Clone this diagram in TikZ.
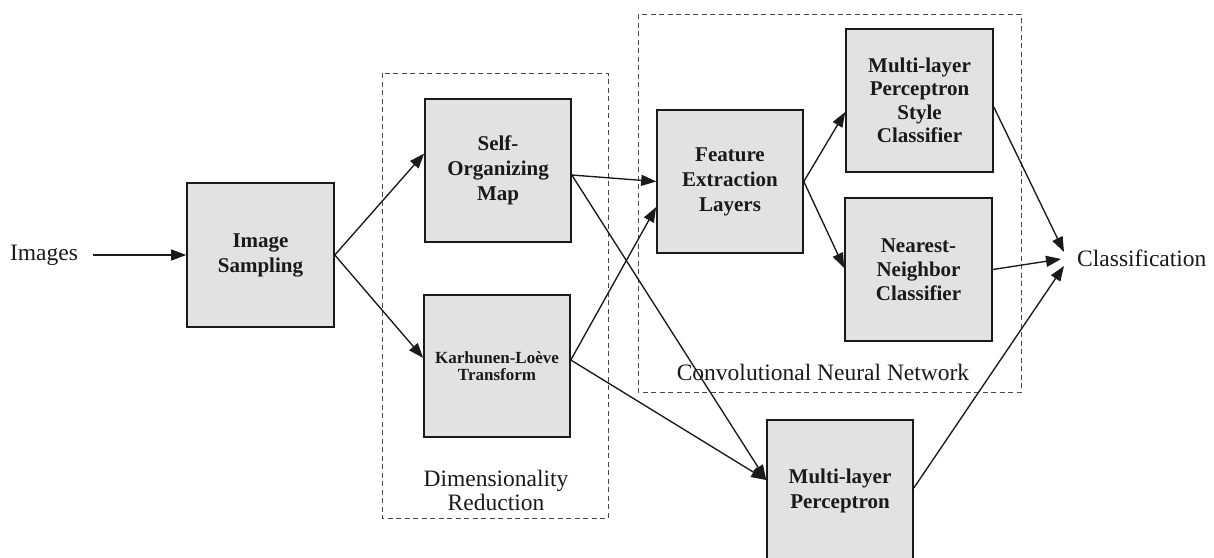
\documentclass[tikz,border=0pt]{standalone}
\usepackage{fontspec}
\setmainfont{Liberation Serif}
\usetikzlibrary{arrows.meta,calc}
\definecolor{boxfill}{HTML}{E2E2E2}
\definecolor{inkc}{HTML}{1A1A1A}
\tikzset{
  blockbox/.style={draw=inkc, line width=1.6pt, fill=boxfill, minimum width=146pt, minimum height=143pt, inner sep=0pt, align=center, font=\bfseries\fontsize{21}{25}\selectfont, text=inkc},
  lbl/.style={inner sep=0pt, align=center, font=\fontsize{23.5}{24}\selectfont, text=inkc},
  arr/.style={draw=inkc, line width=1.35pt, -{Triangle[length=15pt,width=11pt]}},
  groupbox/.style={draw=inkc!80, line width=0.9pt, dash pattern=on 5pt off 3.5pt}
}
\begin{document}
\begin{tikzpicture}[x=1pt,y=-1pt]
\useasboundingbox (0,0) rectangle (1214,557);
\fill[white] (0,0) rectangle (1214,557);
\clip (0,0) rectangle (1214,557);

% group frames
\draw[groupbox] (382,73) rectangle (608,518);
\draw[groupbox] (638,14) rectangle (1021,392);
\node[lbl] (dimlbl) at (496,490) {Dimensionality\\Reduction};
\node[lbl] (cnnlbl) at (823,372) {Convolutional Neural Network};

% blocks
\node[lbl] (img) at (44,255) {Images};
\node[blockbox, minimum width=147pt, minimum height=144pt] (samp) at (260.5,255) {Image\\Sampling};
\node[blockbox] (som) at (498,170.5) {Self-\\Organizing\\Map};
\node[blockbox, minimum height=142pt, font=\bfseries\fontsize{17}{16.5}\selectfont] (klt) at (497,366) {Karhunen-Lo\`eve\\Transform};
\node[blockbox] (fel) at (730,181.5) {Feature\\Extraction\\Layers};
\node[blockbox, minimum width=147pt, font=\bfseries\fontsize{21}{23.5}\selectfont] (mlpsc) at (919.5,100.5) {Multi-layer\\Perceptron\\Style\\Classifier};
\node[blockbox, minimum width=147pt, font=\bfseries\fontsize{21}{24}\selectfont] (nn) at (918.5,269.5) {Nearest-\\Neighbor\\Classifier};
\node[blockbox, minimum height=142pt] (mlp) at (840,491) {Multi-layer\\Perceptron};
\node[lbl, anchor=west] (cls) at (1077,258) {Classification};

\coordinate (c1) at (1064,252);
\coordinate (c2) at (1061,259);
\coordinate (c3) at (1064,266);

% connectors
\draw[arr] ([xshift=15pt]img.east) -- (samp.west);
\draw[arr] (samp.east) -- ($(som.west)+(0,-17)$);
\draw[arr] (samp.east) -- ($(klt.west)+(0,-8)$);
\draw[arr] ($(som.east)+(0,4.5)$) -- (fel.west);
\draw[arr] ($(som.east)+(0,4.5)$) -- ($(mlp.west)+(0,-11)$);
\draw[arr] ($(klt.east)+(0,-6)$) -- ($(fel.west)+(0,25.5)$);
\draw[arr] ($(klt.east)+(0,-6)$) -- ($(mlp.west)+(0,-11)$);
\draw[arr] (fel.east) -- ($(mlpsc.west)+(0,11.5)$);
\draw[arr] (fel.east) -- ($(nn.west)+(0,-1.5)$);
\draw[arr] ($(mlpsc.east)+(0,6.5)$) -- (c1);
\draw[arr] (nn.east) -- (c2);
\draw[arr] ($(mlp.east)+(0,-3)$) -- (c3);
\end{tikzpicture}
\end{document}
